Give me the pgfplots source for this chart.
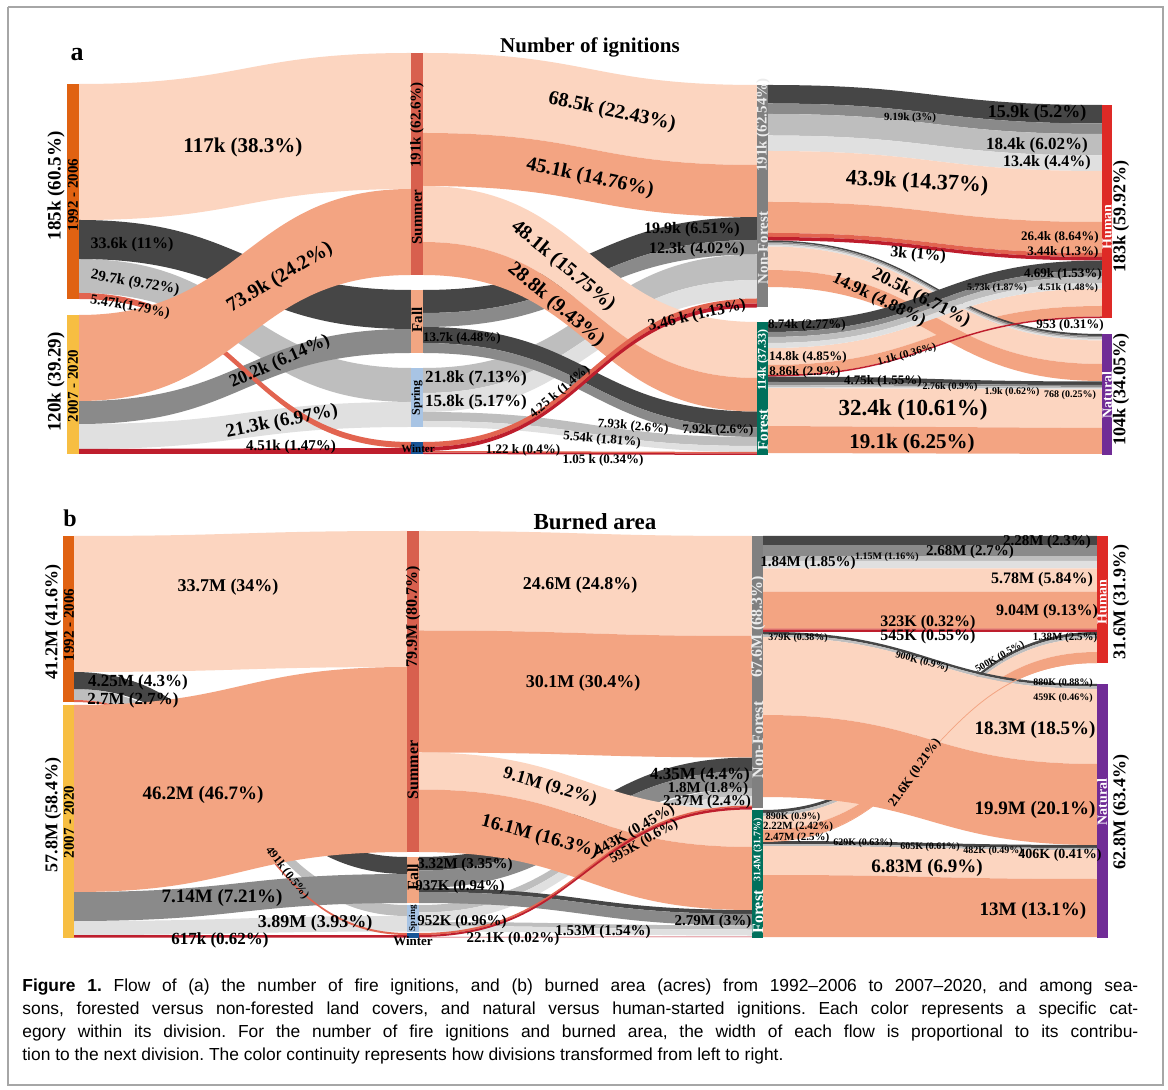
\documentclass[border=0pt]{standalone}
\usepackage{pgfplots}
\pgfplotsset{compat=1.18}
\usepackage{pgfplotstable}
\usepackage{fontspec}
\setmainfont{Liberation Serif}
\newfontfamily\capfont{Liberation Sans}

\definecolor{ls}{RGB}{252,213,192}
\definecolor{sa}{RGB}{243,164,130}
\definecolor{dg}{RGB}{70,70,70}
\definecolor{mg}{RGB}{138,138,138}
\definecolor{lg}{RGB}{190,190,190}
\definecolor{vl}{RGB}{224,224,224}
\definecolor{co}{RGB}{226,100,80}
\definecolor{dr}{RGB}{190,30,45}
\definecolor{cA}{RGB}{224,98,18}
\definecolor{cB}{RGB}{247,190,66}
\definecolor{cSu}{RGB}{216,96,78}
\definecolor{cFa}{RGB}{242,166,130}
\definecolor{cSp}{RGB}{168,196,228}
\definecolor{cWi}{RGB}{25,85,150}
\definecolor{cNF}{RGB}{128,128,128}
\definecolor{cFo}{RGB}{0,112,92}
\definecolor{cHu}{RGB}{222,42,38}
\definecolor{cNa}{RGB}{112,44,150}

% flows: x0 x1 top0 bot0 top1 bot1 colour (pixel positions)
\pgfplotstableread{
x0 x1 a0 b0 a1 b1 c
79 411 84 220 53 189 ls
79 411 259 293 368 402 lg
79 411 424 449 402 427 vl
79 411 401 424 329 353 mg
79 411 220 259 290 329 dg
79 411 293 299 442 448 co
79 411 315 401 189 275 sa
79 411 449 454 448 454 dr
423 757 290 313 217 240 dg
423 757 313 327 240 254.5 mg
423 757 368 393 254.5 280 lg
423 757 393 412 280 298.5 vl
423 757 327 343 411.5 427.5 dg
423 757 343 353 427.5 437 mg
423 757 412 421 437 446 lg
423 757 421 427 446 452 vl
423 757 53 133 85 165 ls
423 757 133 186 165 217 sa
423 757 186 242 322 378 ls
423 757 242 275 378 411.5 sa
423 757 451 452.5 452 453.5 co
423 757 452.5 454 453.5 455 dr
423 757 442 447 298.5 303.5 co
423 757 447 451 303.5 307.5 dr
768 1102 85 103.5 105 123.5 dg
768 1102 103.5 114 123.5 134 mg
768 1102 114 135.5 134 155.5 lg
768 1102 135.5 151 155.5 171 vl
768 1102 151 202 171 222 ls
768 1102 202 233 222 253 sa
768 1102 233 237 253 257 co
768 1102 237 240.5 257 260.5 dr
768 1102 376.5 382 381.5 385 dg
768 1102 382 385 385 387 mg
768 1102 385 387 387 388.5 lg
768 1102 387 388 388.5 389.5 vl
768 1102 388 426 389.5 428 ls
768 1102 426 453 428 454 sa
768 1102 348 365 288.5 306 ls
768 1102 365 375 306 316.5 sa
768 1102 240.5 242 334 336 dg
768 1102 242 243.5 336 337.5 mg
768 1102 243.5 245 337.5 339 lg
768 1102 245 246.5 339 340.5 vl
768 1102 246.5 270 340.5 364 ls
768 1102 270 287 364 381 sa
768 1102 322 332 260.5 270.5 dg
768 1102 332 337 270.5 276.5 mg
768 1102 337 343 276.5 283 lg
768 1102 343 348 283 288.5 vl
768 1102 375 376.5 316.5 318 dr
}\flowsA

\pgfplotstableread{
x0 x1 a0 b0 a1 b1 c
74 407 536 672 531 667 ls
74 407 921 935 916 931.5 vl
74 407 689 700 905 916 lg
74 407 892 921 874 903 mg
74 407 672 689 857 874 dg
74 407 700 702 933 935 co
74 407 935 937.5 935 937.5 dr
74 407 705 892 667 852 sa
419 752 857 870.5 757.5 771 dg
419 752 870.5 888 771 788.5 mg
419 752 905 912.5 788.5 796 lg
419 752 912.5 922 796 805.5 vl
419 752 888 892 910 914 dg
419 752 892 903 914 925.5 mg
419 752 922 926 925.5 929.5 lg
419 752 926 931.5 929.5 935.5 vl
419 752 531 630.5 536 636 ls
419 752 630.5 752.5 636 757.5 sa
419 752 752.5 789.5 810 847 ls
419 752 789.5 852 847 910 sa
419 752 933 935 805.5 807 co
419 752 935 937 807 809.5 dr
419 752 937 937.5 936.5 937 dr
763 1097 536 545.2 536 545.2 dg
763 1097 545.2 556.1 545.2 556.1 mg
763 1097 556.1 560.8 556.1 560.8 lg
763 1097 560.8 568.3 560.8 568.3 vl
763 1097 568.3 591.7 568.3 591.7 ls
763 1097 591.7 628.3 591.7 628.3 sa
763 1097 628.3 629.6 628.3 629.6 co
763 1097 629.6 631.8 629.6 631.8 dr
763 1097 841 844 845 848 dg
763 1097 844 846 848 850 lg
763 1097 846 875 850 879 ls
763 1097 875 937 879 937 sa
763 1097 810 813 632 635 dg
763 1097 813 816 635 638 lg
763 1097 816 830 638 652 ls
763 1097 830 841 652 663 sa
763 1097 631.8 634.5 684 686.5 dg
763 1097 634.5 637 686.5 689 lg
763 1097 637 715 689 764 ls
763 1097 715 797 764 845 sa
763 1097 841 842 662 663 sa
}\flowsB

\newcommand\drawflows[1]{%
  \pgfplotstablegetrowsof{#1}%
  \pgfmathtruncatemacro\nrows{\pgfplotsretval-1}%
  \pgfplotsforeachungrouped \ri in {0,...,\nrows}{%
    \pgfplotstablegetelem{\ri}{x0}\of{#1}\let\fxa\pgfplotsretval
    \pgfplotstablegetelem{\ri}{x1}\of{#1}\let\fxb\pgfplotsretval
    \pgfplotstablegetelem{\ri}{a0}\of{#1}\let\fya\pgfplotsretval
    \pgfplotstablegetelem{\ri}{b0}\of{#1}\let\fyb\pgfplotsretval
    \pgfplotstablegetelem{\ri}{a1}\of{#1}\let\fyc\pgfplotsretval
    \pgfplotstablegetelem{\ri}{b1}\of{#1}\let\fyd\pgfplotsretval
    \pgfplotstablegetelem{\ri}{c}\of{#1}\let\fc\pgfplotsretval
    \pgfmathsetmacro\fxm{(\fxa+\fxb)/2}%
    \edef\temp{\noexpand\fill[\fc] (axis cs:\fxa,\fya) .. controls (axis cs:\fxm,\fya) and (axis cs:\fxm,\fyc) .. (axis cs:\fxb,\fyc) -- (axis cs:\fxb,\fyd) .. controls (axis cs:\fxm,\fyd) and (axis cs:\fxm,\fyb) .. (axis cs:\fxa,\fyb) -- cycle;}%
    \temp
  }%
}

\newcommand\fs[1]{\fontsize{#1}{#1}\selectfont\bfseries}
\tikzset{lab/.style={inner sep=0pt, text=black}}
\newcommand\capf{\capfont\fontsize{8.7}{10}\selectfont\frenchspacing}

\begin{document}
\begin{tikzpicture}
\begin{axis}[
  width=584pt, height=545pt, scale only axis,
  xmin=0, xmax=1168, ymin=0, ymax=1090, y dir=reverse,
  hide axis, clip=false,
]
\addplot[fill=white, draw=none] coordinates {(0,0) (1168,0) (1168,1090) (0,1090)};
\addplot[draw=black!35, line width=0.8pt] coordinates {(8,7) (1163,7) (1163,1085) (8,1085) (8,7)};

\drawflows{\flowsA}
\drawflows{\flowsB}

% node bars panel a
\addplot[fill=cA, draw=none] coordinates {(67,84) (79,84) (79,299) (67,299)};
\addplot[fill=cB, draw=none] coordinates {(67,315) (79,315) (79,454) (67,454)};
\addplot[fill=cSu, draw=none] coordinates {(411,53) (423,53) (423,275) (411,275)};
\addplot[fill=cFa, draw=none] coordinates {(411,290) (423,290) (423,353) (411,353)};
\addplot[fill=cSp, draw=none] coordinates {(411,368) (423,368) (423,427) (411,427)};
\addplot[fill=cWi, draw=none] coordinates {(411,442) (423,442) (423,454) (411,454)};
\addplot[fill=cNF, draw=none] coordinates {(757,85) (768,85) (768,307) (757,307)};
\addplot[fill=cFo, draw=none] coordinates {(757,322) (768,322) (768,455) (757,455)};
\addplot[fill=cHu, draw=none] coordinates {(1102,105) (1112,105) (1112,318) (1102,318)};
\addplot[fill=cNa, draw=none] coordinates {(1102,334) (1112,334) (1112,455) (1102,455)};
% node bars panel b
\addplot[fill=cA, draw=none] coordinates {(63,536) (74,536) (74,702) (63,702)};
\addplot[fill=cB, draw=none] coordinates {(63,705) (74,705) (74,937.5) (63,937.5)};
\addplot[fill=cSu, draw=none] coordinates {(407,531) (419,531) (419,852) (407,852)};
\addplot[fill=cFa, draw=none] coordinates {(407,857) (419,857) (419,903) (407,903)};
\addplot[fill=cSp, draw=none] coordinates {(407,905) (419,905) (419,931.5) (407,931.5)};
\addplot[fill=cWi, draw=none] coordinates {(407,933) (419,933) (419,937.5) (407,937.5)};
\addplot[fill=cNF, draw=none] coordinates {(752,536) (763,536) (763,808) (752,808)};
\addplot[fill=cFo, draw=none] coordinates {(752,810) (763,810) (763,937.5) (752,937.5)};
\addplot[fill=cHu, draw=none] coordinates {(1097,536) (1108,536) (1108,663) (1097,663)};
\addplot[fill=cNa, draw=none] coordinates {(1097,684) (1108,684) (1108,937.5) (1097,937.5)};

% ---------- panel a text ----------
\node[lab, font=\fs{13}] at (77,55) {a};
\node[lab, font=\fs{10.5}] at (590,47) {Number of ignitions};
\node[lab, font=\fs{9.5}, rotate=90] at (56,186) {185k (60.5\%)};
\node[lab, font=\fs{7.5}, rotate=90] at (73,195) {1992 - 2006};
\node[lab, font=\fs{9.5}, rotate=90] at (56,382) {120k (39.29)};
\node[lab, font=\fs{7.5}, rotate=90] at (73,386) {2007 - 2020};
\node[lab, font=\fs{7.5}, rotate=90] at (417,125) {191k (62.6\%)};
\node[lab, font=\fs{7.5}, rotate=90] at (417,217) {Summer};
\node[lab, font=\fs{7.5}, rotate=90] at (417,320) {Fall};
\node[lab, font=\fs{6}, rotate=90] at (417,398) {Spring};
\node[lab, font=\fs{5.5}] at (418,449) {Winter};
\node[lab, font=\fs{7.5}, rotate=90, text=white!92!black] at (763,125) {191k (62.54\%)};
\node[lab, font=\fs{7.5}, rotate=90, text=white!92!black] at (763,248) {Non-Forest};
\node[lab, font=\fs{6}, rotate=90, text=white] at (763,360) {114k (37.33)};
\node[lab, font=\fs{7.5}, rotate=90, text=white] at (763,430) {Forest};
\node[lab, font=\fs{7}, rotate=90, text=white] at (1107,227) {Human};
\node[lab, font=\fs{9}, rotate=90] at (1121,217) {183k (59.92\%)};
\node[lab, font=\fs{7}, rotate=90, text=white] at (1107,395) {Natural};
\node[lab, font=\fs{9}, rotate=90] at (1121,390) {104k (34.05\%)};

\node[lab, font=\fs{10.5}] at (243,147) {117k (38.3\%)};
\node[lab, font=\fs{8}] at (132,245) {33.6k (11\%)};
\node[lab, font=\fs{7.5}, rotate=-10] at (135,283) {29.7k (9.72\%)};
\node[lab, font=\fs{7}, rotate=-10] at (130,307) {5.47k(1.79\%)};
\node[lab, font=\fs{10}, rotate=31] at (280,278) {73.9k (24.2\%)};
\node[lab, font=\fs{9}, rotate=24] at (280,362) {20.2k (6.14\%)};
\node[lab, font=\fs{9.5}, rotate=11] at (282,422) {21.3k (6.97\%)};
\node[lab, font=\fs{7.5}] at (291,447) {4.51k (1.47\%)};

\node[lab, font=\fs{10}, rotate=-12] at (612,112) {68.5k (22.43\%)};
\node[lab, font=\fs{10}, rotate=-12] at (590,178) {45.1k (14.76\%)};
\node[lab, font=\fs{10}, rotate=-40] at (563,266) {48.1k (15.75\%)};
\node[lab, font=\fs{10}, rotate=-40] at (556,305) {28.8k (9.43\%)};
\node[lab, font=\fs{8}] at (692,230) {19.9k (6.51\%)};
\node[lab, font=\fs{8}] at (697,250) {12.3k (4.02\%)};
\node[lab, font=\fs{8}, rotate=13] at (697,316) {3.46 k (1.13\%)};
\node[lab, font=\fs{6.5}] at (462,338) {13.7k (4.48\%)};
\node[lab, font=\fs{8.5}] at (476,378) {21.8k (7.13\%)};
\node[lab, font=\fs{8.5}] at (476,402) {15.8k (5.17\%)};
\node[lab, font=\fs{6.5}, rotate=40] at (560,392) {4.25 k (1.4\%)};
\node[lab, font=\fs{6.5}, rotate=-5] at (633,427) {7.93k (2.6\%)};
\node[lab, font=\fs{6.5}, rotate=-5] at (602,440) {5.54k (1.81\%)};
\node[lab, font=\fs{6.5}] at (718,430) {7.92k (2.6\%)};
\node[lab, font=\fs{6.5}] at (523,450) {1.22 k (0.4\%)};
\node[lab, font=\fs{6.5}] at (603,460) {1.05 k (0.34\%)};

\node[lab, font=\fs{5.5}] at (910,118) {9.19k (3\%)};
\node[lab, font=\fs{9}] at (1037,113) {15.9k (5.2\%)};
\node[lab, font=\fs{8.5}] at (1037,145) {18.4k (6.02\%)};
\node[lab, font=\fs{8}] at (1047,163) {13.4k (4.4\%)};
\node[lab, font=\fs{11}, rotate=-3] at (917,183) {43.9k (14.37\%)};
\node[lab, font=\fs{6.5}] at (1060,237) {26.4k (8.64\%)};
\node[lab, font=\fs{6.5}] at (1063,252) {3.44k (1.3\%)};
\node[lab, font=\fs{8}, rotate=-5] at (918,255) {3k (1\%)};
\node[lab, font=\fs{6.5}] at (1063,274) {4.69k (1.53\%)};
\node[lab, font=\fs{5}] at (997,288) {5.73k (1.87\%)};
\node[lab, font=\fs{5}] at (1068,288) {4.51k (1.48\%)};
\node[lab, font=\fs{9}, rotate=-27] at (921,298) {20.5k (6.71\%)};
\node[lab, font=\fs{8.5}, rotate=-26] at (879,300) {14.9k (4.88\%)};
\node[lab, font=\fs{6.5}] at (807,325) {8.74k (2.77\%)};
\node[lab, font=\fs{6.5}] at (1070,325) {953 (0.31\%)};
\node[lab, font=\fs{6.5}] at (808,357) {14.8k (4.85\%)};
\node[lab, font=\fs{6.5}] at (805,372) {8.86k (2.9\%)};
\node[lab, font=\fs{5.5}, rotate=15] at (907,355) {1.1k (0.36\%)};
\node[lab, font=\fs{6.5}] at (883,381) {4.75k (1.55\%)};
\node[lab, font=\fs{5}] at (950,387) {2.76k (0.9\%)};
\node[lab, font=\fs{5}] at (1012,392) {1.9k (0.62\%)};
\node[lab, font=\fs{5}] at (1070,395) {768 (0.25\%)};
\node[lab, font=\fs{11.5}] at (913,410) {32.4k (10.61\%)};
\node[lab, font=\fs{10.5}] at (912,443) {19.1k (6.25\%)};

% ---------- panel b text ----------
\node[lab, font=\fs{12}] at (70,518) {b};
\node[lab, font=\fs{11.5}] at (595,522) {Burned area};
\node[lab, font=\fs{9}, rotate=90] at (53,622) {41.2M (41.6\%)};
\node[lab, font=\fs{7.5}, rotate=90] at (69,625) {1992 - 2006};
\node[lab, font=\fs{9}, rotate=90] at (53,815) {57.8M (58.4\%)};
\node[lab, font=\fs{7.5}, rotate=90] at (69,822) {2007 - 2020};
\node[lab, font=\fs{8}, rotate=90] at (413,617) {79.9M (80.7\%)};
\node[lab, font=\fs{8}, rotate=90] at (413,770) {Summer};
\node[lab, font=\fs{8}, rotate=90] at (413,877) {Fall};
\node[lab, font=\fs{4.5}, rotate=90] at (413,918) {Spring};
\node[lab, font=\fs{6.5}] at (413,941) {Winter};
\node[lab, font=\fs{8}, rotate=90, text=white!92!black] at (758,627) {67.6M (68.3\%)};
\node[lab, font=\fs{8}, rotate=90, text=white!92!black] at (758,740) {Non-Forest};
\node[lab, font=\fs{5}, rotate=90, text=white] at (758,850) {31.4M (31.7\%)};
\node[lab, font=\fs{8}, rotate=90, text=white] at (758,912) {Forest};
\node[lab, font=\fs{7}, rotate=90, text=white] at (1102,602) {Human};
\node[lab, font=\fs{9}, rotate=90] at (1121,602) {31.6M (31.9\%)};
\node[lab, font=\fs{7}, rotate=90, text=white] at (1102,802) {Natural};
\node[lab, font=\fs{9}, rotate=90] at (1121,812) {62.8M (63.4\%)};

\node[lab, font=\fs{9}] at (228,587) {33.7M (34\%)};
\node[lab, font=\fs{8.5}] at (138,682) {4.25M (4.3\%)};
\node[lab, font=\fs{8.5}] at (133,700) {2.7M (2.7\%)};
\node[lab, font=\fs{9.5}] at (203,795) {46.2M (46.7\%)};
\node[lab, font=\fs{9.5}] at (222,898) {7.14M (7.21\%)};
\node[lab, font=\fs{9}] at (315,923) {3.89M (3.93\%)};
\node[lab, font=\fs{8.5}] at (220,940) {617k (0.62\%)};
\node[lab, font=\fs{6}, rotate=-52] at (287,873) {491k (0.5\%)};
\node[lab, font=\fs{9}] at (580,585) {24.6M (24.8\%)};
\node[lab, font=\fs{9}] at (583,683) {30.1M (30.4\%)};
\node[lab, font=\fs{9}, rotate=-16] at (550,787) {9.1M (9.2\%)};
\node[lab, font=\fs{9.5}, rotate=-15] at (540,837) {16.1M (16.3\%)};
\node[lab, font=\fs{7.5}] at (465,865) {3.32M (3.35\%)};
\node[lab, font=\fs{7.5}] at (460,887) {937K (0.94\%)};
\node[lab, font=\fs{7.5}] at (462,922) {952K (0.96\%)};
\node[lab, font=\fs{7.5}] at (513,939) {22.1K (0.02\%)};
\node[lab, font=\fs{7.5}] at (603,932) {1.53M (1.54\%)};
\node[lab, font=\fs{7.5}] at (713,922) {2.79M (3\%)};
\node[lab, font=\fs{7.5}, rotate=30] at (635,831) {443K (0.45\%)};
\node[lab, font=\fs{7}, rotate=30] at (644,842) {595K (0.6\%)};
\node[lab, font=\fs{8.5}] at (700,775) {4.35M (4.4\%)};
\node[lab, font=\fs{7.5}] at (708,789) {1.8M (1.8\%)};
\node[lab, font=\fs{7.5}] at (707,802) {2.37M (2.4\%)};

\node[lab, font=\fs{7.5}] at (1047,542) {2.28M (2.3\%)};
\node[lab, font=\fs{7.5}] at (970,552) {2.68M (2.7\%)};
\node[lab, font=\fs{5}] at (887,557) {1.15M (1.16\%)};
\node[lab, font=\fs{7.5}] at (808,563) {1.84M (1.85\%)};
\node[lab, font=\fs{8}] at (1042,580) {5.78M (5.84\%)};
\node[lab, font=\fs{8}] at (1047,612) {9.04M (9.13\%)};
\node[lab, font=\fs{8}] at (928,623) {323K (0.32\%)};
\node[lab, font=\fs{8}] at (928,637) {545K (0.55\%)};
\node[lab, font=\fs{5}] at (798,638) {379K (0.38\%)};
\node[lab, font=\fs{5}, rotate=-15] at (922,662) {900K (0.9\%)};
\node[lab, font=\fs{5}, rotate=30] at (1000,657) {500K (0.5\%)};
\node[lab, font=\fs{5.5}] at (1065,638) {1.38M (2.5\%)};
\node[lab, font=\fs{5}] at (1063,683) {880K (0.88\%)};
\node[lab, font=\fs{5}] at (1063,698) {459K (0.46\%)};
\node[lab, font=\fs{9.5}] at (1035,730) {18.3M (18.5\%)};
\node[lab, font=\fs{9.5}] at (1035,810) {19.9M (20.1\%)};
\node[lab, font=\fs{6.5}, rotate=55] at (915,773) {21.6K (0.21\%)};
\node[lab, font=\fs{5}] at (793,817) {890K (0.9\%)};
\node[lab, font=\fs{5.5}] at (798,827) {2.22M (2.42\%)};
\node[lab, font=\fs{5.5}] at (797,838) {2.47M (2.5\%)};
\node[lab, font=\fs{5}] at (863,843) {629K (0.63\%)};
\node[lab, font=\fs{5}] at (930,847) {605K (0.61\%)};
\node[lab, font=\fs{5}] at (993,851) {482K (0.49\%)};
\node[lab, font=\fs{7}] at (1060,855) {406K (0.41\%)};
\node[lab, font=\fs{9.5}] at (927,868) {6.83M (6.9\%)};
\node[lab, font=\fs{9.5}] at (1033,911) {13M (13.1\%)};

% ---------- caption ----------
\node[inner sep=0pt, anchor=base west, font=\capf] at (22,991) {\makebox[558pt][s]{\textbf{Figure 1.} Flow of (a) the number of fire ignitions, and (b) burned area (acres) from 1992–2006 to 2007–2020, and among sea-}};
\node[inner sep=0pt, anchor=base west, font=\capf] at (22,1014) {\makebox[558pt][s]{sons, forested versus non-forested land covers, and natural versus human-started ignitions. Each color represents a specific cat-}};
\node[inner sep=0pt, anchor=base west, font=\capf] at (22,1037) {\makebox[558pt][s]{egory within its division. For the number of fire ignitions and burned area, the width of each flow is proportional to its contribu-}};
\node[inner sep=0pt, anchor=base west, font=\capf] at (22,1060) {tion to the next division. The color continuity represents how divisions transformed from left to right.};
\end{axis}
\end{tikzpicture}
\end{document}
